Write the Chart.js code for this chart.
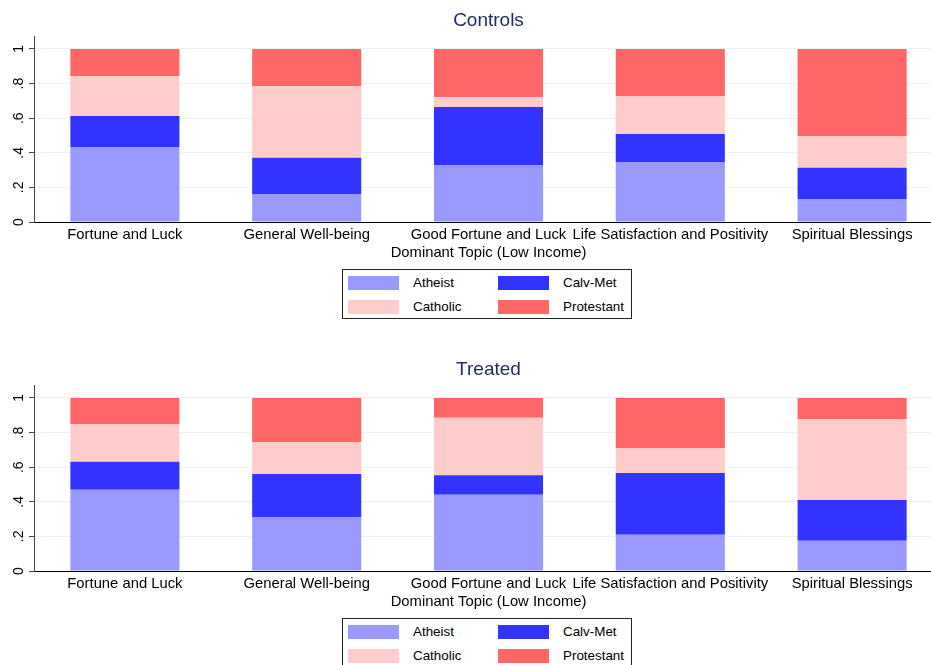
<!DOCTYPE html>
<html>
<head>
  <meta charset="UTF-8" />
  <title>Dominant Topic (Low Income) by Religion</title>
  <script src="https://cdn.jsdelivr.net/npm/chart.js@4.4.1/dist/chart.umd.min.js"></script>
  <style>
    body { margin: 0; overflow: hidden; background: #fff; font-family: "Liberation Sans", Arial, sans-serif; }
    .panel { position: absolute; left: 0; width: 943px; height: 349px; }
    .panel canvas { display: block; }
    .legend {
      position: absolute; left: 342px; top: 269px;
      border: 1px solid #222; padding: 5px 7px 4px 5px;
      display: grid; grid-template-columns: 51px 71px 51px auto;
      column-gap: 14px; row-gap: 9px; align-items: center;
      font-size: 13.4px; color: #000;
    }
    .swatch { height: 14px; }
  </style>
</head>
<body>
  <div class="panel" style="top:0px">
    <canvas id="chartControls" width="943" height="262"></canvas>
    <div class="legend" id="legendControls"></div>
  </div>
  <div class="panel" style="top:349px">
    <canvas id="chartTreated" width="943" height="262"></canvas>
    <div class="legend" id="legendTreated"></div>
  </div>
  <script>
    const categories = ['Fortune and Luck', 'General Well-being', 'Good Fortune and Luck',
      'Life Satisfaction and Positivity', 'Spiritual Blessings'];
    const seriesNames = ['Atheist', 'Calv-Met', 'Catholic', 'Protestant'];
    const seriesColors = ['#9999ff', '#3333ff', '#ffcccc', '#ff6666'];
    const yTickValues = [0, 0.2, 0.4, 0.6, 0.8, 1];
    const yTickLabels = ['0', '.2', '.4', '.6', '.8', '1'];
    const xAxisTitle = 'Dominant Topic (Low Income)';

    // shares per category
    const controlsAtheist = [0.434, 0.162, 0.329, 0.347, 0.133];
    const controlsCalvMet = [0.179, 0.210, 0.336, 0.162, 0.181];
    const controlsCatholic = [0.231, 0.414, 0.058, 0.218, 0.183];
    const controlsProtestant = [0.156, 0.214, 0.277, 0.273, 0.503];

    const treatedAtheist = [0.469, 0.309, 0.440, 0.209, 0.175];
    const treatedCalvMet = [0.162, 0.251, 0.114, 0.358, 0.235];
    const treatedCatholic = [0.219, 0.186, 0.331, 0.144, 0.469];
    const treatedProtestant = [0.150, 0.254, 0.115, 0.289, 0.121];

    const family = '"Liberation Sans", Arial, sans-serif';

    drawPanel('chartControls', 'legendControls', 'Controls',
      [controlsAtheist, controlsCalvMet, controlsCatholic, controlsProtestant]);
    drawPanel('chartTreated', 'legendTreated', 'Treated',
      [treatedAtheist, treatedCalvMet, treatedCatholic, treatedProtestant]);

    function drawPanel(canvasId, legendId, title, values) {
      const datasets = seriesNames.map((name, i) => ({
        label: name,
        data: values[i],
        backgroundColor: seriesColors[i],
        borderWidth: 0,
        categoryPercentage: 1,
        barPercentage: 0.6
      }));

      new Chart(document.getElementById(canvasId), {
        type: 'bar',
        data: { labels: categories, datasets: datasets },
        options: {
          responsive: false,
          animation: false,
          layout: { padding: 0 },
          plugins: {
            legend: { display: false },
            tooltip: { enabled: false },
            title: {
              display: true, text: title, color: '#1e2b5c', fullSize: false,
              font: { size: 19, family: family, weight: 'normal' },
              padding: { top: 9, bottom: 4.2 }
            }
          },
          scales: {
            x: {
              stacked: true,
              grid: { display: false, drawTicks: false },
              border: { color: '#000', width: 1 },
              ticks: {
                color: '#000', font: { size: 14.8, family: family },
                padding: 4, maxRotation: 0, minRotation: 0, autoSkip: false
              },
              title: {
                display: true, text: xAxisTitle, color: '#000',
                font: { size: 14.8, family: family }, padding: { top: 0, bottom: 0 }
              },
              afterFit: s => { s.height = 40; }
            },
            y: {
              stacked: true,
              min: 0,
              max: 1.075,
              afterBuildTicks: s => { s.ticks = yTickValues.map(v => ({ value: v })); },
              afterFit: s => { s.width = 34; },
              grid: { color: '#eaf2f3', tickColor: '#444', tickLength: 5 },
              border: { color: '#444', width: 1 },
              ticks: {
                color: '#000', font: { size: 14, family: family },
                minRotation: 90, maxRotation: 90, crossAlign: 'center', padding: 4,
                callback: (v, i) => yTickLabels[i]
              }
            }
          }
        }
      });

      // legend box: two columns, row-major like the original
      const box = document.getElementById(legendId);
      seriesNames.forEach((name, i) => {
        const sw = document.createElement('div');
        sw.className = 'swatch';
        sw.style.background = seriesColors[i];
        const lab = document.createElement('div');
        lab.textContent = name;
        box.appendChild(sw);
        box.appendChild(lab);
      });
    }
  </script>
</body>
</html>
